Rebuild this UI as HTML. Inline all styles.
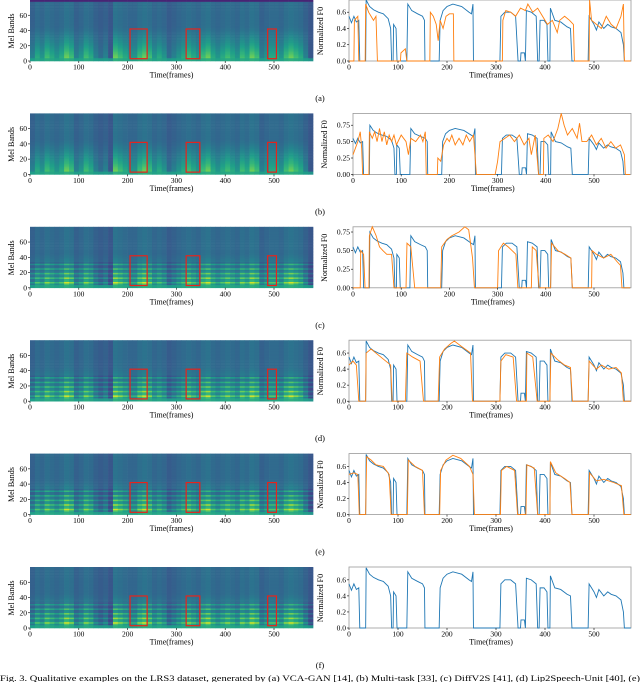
<!DOCTYPE html>
<html><head><meta charset="utf-8"><style>
html,body{margin:0;padding:0;background:#fff;}
svg text{font-family:"Liberation Serif",serif;}
</style></head><body>
<svg id="fig" width="640" height="682" viewBox="0 0 640 682" xmlns="http://www.w3.org/2000/svg"></svg>
<script>
// ---- data ----
const rowLabels=["(a)","(b)","(c)","(d)","(e)","(f)"];
const xTicks=[0,100,200,300,400,500];
const melTicks=[0,20,40,60];
const energy=[0.5,0.7,0.6,0.8,0.7,0.6,0.7,0.9,0.8,0.5,0.6,0.8,0.7,0.5,0.4,0.5,0.3,0.9,0.8,0.7,0.6,0.6,0.8,0.9,0.8,0.6,0.7,0.6,0.4,0.5,0.6,0.7,0.8,0.7,0.6,0.8,0.9,0.7,0.6,0.7,0.8,0.7,0.6,0.8,0.7,0.9,0.8,0.5,0.6,0.7,0.7,0.6,0.8,0.9,0.8,0.7,0.5,0.3];
const harmonic=[false,false,true,true,true,true];
const boxes=[[205,240],[320,348],[487,505]];
const f0Ticks=[[0,0.2,0.4,0.6],[0,0.25,0.5,0.75],[0,0.25,0.5,0.75],[0,0.2,0.4,0.6],[0,0.2,0.4,0.6],[0,0.2,0.4,0.6]];
const f0Max=[0.75,0.93,0.82,0.76,0.76,0.76];
const blueF0=[[0,0.55],[5,0.47],[10,0.55],[15,0.48],[20,0.5],[22,0],[34,0],[35,0.75],[42,0.67],[50,0.63],[60,0.6],[70,0.58],[80,0.52],[85,0.4],[87,0],[90,0],[91,0.45],[96,0.4],[98,0],[118,0],[120,0.7],[128,0.62],[140,0.58],[150,0.55],[154,0.5],[155,0],[184,0],[186,0.5],[192,0.62],[200,0.67],[212,0.7],[230,0.67],[245,0.6],[250,0.58],[253,0.7],[254,0],[308,0],[310,0.55],[318,0.6],[330,0.6],[340,0.55],[345,0],[350,0],[351,0.1],[358,0.1],[360,0],[362,0.62],[372,0.6],[382,0.55],[385,0],[388,0],[390,0.5],[398,0.5],[404,0.45],[406,0],[410,0],[411,0.65],[420,0.5],[432,0.48],[445,0.42],[452,0.4],[455,0],[488,0],[490,0.55],[500,0.45],[505,0.38],[510,0.48],[520,0.4],[528,0.45],[535,0.42],[545,0.4],[555,0.35],[560,0.2],[562,0]];
const orangeA=[[0,0],[10,0],[11,0.5],[18,0.55],[20,0],[33,0],[34,0.7],[40,0.6],[45,0.55],[50,0.5],[55,0.55],[58,0],[105,0],[106,0.1],[115,0.15],[118,0],[165,0],[166,0.6],[172,0.55],[178,0.45],[182,0.25],[186,0.5],[192,0.4],[198,0.55],[205,0.58],[213,0.58],[214,0],[313,0],[314,0.5],[320,0.62],[330,0.6],[340,0.55],[350,0.65],[360,0.62],[365,0.7],[375,0.6],[385,0.65],[395,0.55],[405,0.45],[415,0.5],[425,0.35],[430,0.5],[440,0.55],[450,0.5],[458,0.45],[460,0],[490,0],[491,0.75],[495,0.5],[505,0.45],[515,0.4],[525,0.55],[535,0.45],[545,0.4],[555,0.55],[560,0.7],[562,0],[575,0]];
const orangeB=[[0,0.3],[5,0.4],[10,0.5],[15,0.65],[18,0.4],[20,0],[33,0],[34,0.65],[40,0.55],[45,0.65],[50,0.5],[55,0.7],[60,0.5],[65,0.65],[70,0.45],[75,0.6],[80,0.5],[85,0.6],[90,0.45],[100,0.6],[110,0.5],[115,0.3],[120,0.55],[130,0.5],[140,0.6],[145,0.5],[150,0.65],[152,0],[175,0],[176,0.25],[182,0.2],[188,0.45],[195,0.55],[200,0.5],[205,0.6],[212,0.45],[220,0.55],[228,0.45],[235,0.6],[242,0.5],[250,0.6],[256,0],[295,0],[300,0.2],[305,0.5],[315,0.55],[325,0.6],[335,0.5],[345,0.6],[355,0.45],[365,0.55],[370,0.3],[378,0.6],[385,0],[395,0],[396,0.55],[405,0.6],[415,0.5],[425,0.7],[432,0.93],[438,0.75],[445,0.6],[455,0.7],[465,0.55],[470,0.78],[475,0.5],[485,0.5],[495,0.6],[505,0.45],[515,0.55],[525,0.4],[535,0.5],[545,0.4],[555,0.45],[563,0.3],[565,0],[575,0]];
const orangeC=[[0,0],[15,0],[16,0.5],[22,0.45],[25,0],[33,0],[34,0.7],[40,0.82],[48,0.7],[55,0.55],[62,0.5],[70,0.45],[80,0.45],[85,0],[110,0],[112,0.6],[120,0.55],[128,0],[182,0],[184,0.55],[195,0.65],[205,0.7],[220,0.75],[232,0.82],[240,0.78],[248,0.4],[252,0],[300,0],[302,0.5],[312,0.6],[322,0.55],[330,0.5],[338,0.45],[342,0],[370,0],[372,0.55],[380,0.5],[386,0],[410,0],[412,0.6],[425,0.5],[440,0.45],[452,0.4],[455,0],[495,0],[496,0.5],[505,0.45],[520,0.4],[535,0.45],[548,0.35],[555,0.3],[558,0],[575,0]];
const orangeD=[[0,0.45],[8,0.5],[15,0.45],[20,0],[34,0],[35,0.6],[45,0.65],[55,0.6],[65,0.55],[75,0.5],[85,0.45],[88,0],[115,0],[118,0.6],[130,0.55],[145,0.5],[152,0],[182,0],[185,0.55],[195,0.65],[208,0.72],[215,0.75],[230,0.68],[248,0.6],[252,0],[308,0],[310,0.5],[320,0.58],[335,0.55],[342,0],[362,0],[363,0.6],[375,0.55],[384,0],[410,0],[412,0.6],[425,0.52],[440,0.45],[452,0.42],[456,0],[488,0],[490,0.5],[505,0.4],[515,0.45],[530,0.4],[545,0.42],[556,0.35],[560,0],[575,0]];
const orangeE=[[0,0.5],[10,0.52],[18,0.5],[21,0],[34,0],[36,0.72],[45,0.68],[55,0.62],[70,0.6],[82,0.5],[86,0],[119,0],[121,0.68],[135,0.6],[150,0.55],[154,0],[185,0],[187,0.55],[198,0.68],[212,0.74],[228,0.7],[246,0.6],[253,0.5],[256,0],[309,0],[311,0.55],[322,0.6],[338,0.55],[344,0],[361,0],[363,0.62],[378,0.58],[385,0],[410,0],[411,0.66],[422,0.52],[440,0.45],[451,0.4],[455,0],[489,0],[491,0.52],[505,0.42],[520,0.44],[540,0.4],[556,0.36],[561,0],[575,0]];
const orangeRows=[orangeA,orangeB,orangeC,orangeD,orangeE,null];

// ---- helpers ----
const NS="http://www.w3.org/2000/svg";
const svg=document.getElementById('fig');
function mk(tag,attrs,parent){const e=document.createElementNS(NS,tag);for(const k in attrs)e.setAttribute(k,attrs[k]);(parent||svg).appendChild(e);return e;}
const vir=[[68,1,84],[72,40,120],[62,73,137],[49,104,142],[38,130,142],[31,158,137],[53,183,121],[109,205,89],[180,222,44],[253,231,37]];
function viridis(t){t=Math.max(0,Math.min(1,t))*9;const i=Math.min(8,Math.floor(t)),f=t-i;const a=vir[i],b=vir[i+1];return `rgb(${Math.round(a[0]+(b[0]-a[0])*f)},${Math.round(a[1]+(b[1]-a[1])*f)},${Math.round(a[2]+(b[2]-a[2])*f)})`;}

const rowStep=113.4;
const lx0=30, lpx=0.488;
for(let r=0;r<6;r++){
  const bottom=61+rowStep*r, top=bottom-61;
  const g=mk('g',{});
  
  
  const sg=mk('g',{},g);
  
  
  const xs=f=>lx0+f*lpx;
  const ys=m=>bottom-m*(61/80);
  const nb=40;
  for(let c=0;c<energy.length;c++){
    const e=energy[c];
    for(let b=0;b<nb;b++){
      const mel=b*2;
      let v=0.22+0.18*e;
      if(mel<45) v+=(e-0.3)*0.75*Math.pow(1-mel/45,1.3);
      if(harmonic[r]&&mel<34){ if(b%3===0) v+=0.2*e; else v-=0.06; }
      if(mel>=78&&r===0) v=0.1;
      if(mel<3) v=0.45+0.2*e;
      const rc=mk('rect',{x:xs(c*10).toFixed(2),y:ys(mel+2).toFixed(2),width:(10*lpx+0.3).toFixed(2),height:(2*61/80+0.3).toFixed(2),fill:viridis(v)},sg);
      
      
    }
  }
  boxes.forEach(bx=>{const q=mk('rect',{x:xs(bx[0]),y:ys(42),width:(bx[1]-bx[0])*lpx,height:ys(3)-ys(42),fill:'none',stroke:'#e8231b','stroke-width':1.2},g);
    });
  xTicks.forEach(t=>{mk('line',{x1:xs(t),x2:xs(t),y1:bottom,y2:bottom+2,stroke:'#000','stroke-width':0.6},g);
    const tx=mk('text',{x:xs(t),y:bottom+8.5,'font-size':7.5,'text-anchor':'middle'},g);tx.textContent=t;
    });
  melTicks.forEach(t=>{mk('line',{x1:lx0-2,x2:lx0,y1:ys(t),y2:ys(t),stroke:'#000','stroke-width':0.6},g);
    const tx=mk('text',{x:lx0-3,y:ys(t)+2.5,'font-size':7.5,'text-anchor':'end'},g);tx.textContent=t;
    });
  let t1=mk('text',{x:xs(290),y:bottom+16.5,'font-size':8,'text-anchor':'middle'},g);t1.textContent='Time(frames)';
  
  let t2=mk('text',{x:14,y:top+31,'font-size':8,'text-anchor':'middle',transform:`rotate(-90 14 ${top+31})`},g);t2.textContent='Mel Bands';
  
  // F0 plot
  const rx0=(r===1||r===2)?353:349, rx1=631;
  const rpx=(594-rx0)/500;
  const fx=f=>rx0+f*rpx;
  const fy=v=>bottom-v*(61/f0Max[r]);
  const fg=mk('g',{},g);
  
  
  mk('rect',{x:rx0,y:top,width:rx1-rx0,height:61,fill:'none',stroke:'#999','stroke-width':0.8},fg);
  const line=(data,col)=>mk('polyline',{points:data.map(d=>fx(d[0]).toFixed(2)+','+fy(d[1]).toFixed(2)).join(' '),fill:'none',stroke:col,'stroke-width':0.9},fg);
  const bl=line(blueF0.concat([[575,0]]),'#1f77b4');
  
  if(orangeRows[r]){const ol=line(orangeRows[r],'#ff7f0e');}
  xTicks.forEach(t=>{mk('line',{x1:fx(t),x2:fx(t),y1:bottom,y2:bottom+2,stroke:'#000','stroke-width':0.6},fg);
    const tx=mk('text',{x:fx(t),y:bottom+8.5,'font-size':7.5,'text-anchor':'middle'},fg);tx.textContent=t;
    });
  f0Ticks[r].forEach(t=>{mk('line',{x1:rx0-2,x2:rx0,y1:fy(t),y2:fy(t),stroke:'#000','stroke-width':0.6},fg);
    const dec=(r===1||r===2)?2:1;
    const tx=mk('text',{x:rx0-3,y:fy(t)+2.5,'font-size':7.5,'text-anchor':'end'},fg);tx.textContent=t.toFixed(dec);
    });
  let t3=mk('text',{x:fx(290),y:bottom+16.5,'font-size':8,'text-anchor':'middle'},fg);t3.textContent='Time(frames)';
  
  const yl=rx0-26;
  let t4=mk('text',{x:yl,y:top+31,'font-size':8,'text-anchor':'middle',transform:`rotate(-90 ${yl} ${top+31})`},fg);t4.textContent='Normalized F0';
  
  let lab=mk('text',{x:320,y:bottom+40,'font-size':8.5,'text-anchor':'middle'},g);lab.textContent=rowLabels[r];
  
}
const cap=mk('text',{x:0,y:681,'font-size':8.5,textLength:640,lengthAdjust:'spacingAndGlyphs'});
cap.textContent='Fig. 3.  Qualitative examples on the LRS3 dataset, generated by (a) VCA-GAN [14], (b) Multi-task [33], (c) DiffV2S [41], (d) Lip2Speech-Unit [40], (e)';


</script>
</body></html>
